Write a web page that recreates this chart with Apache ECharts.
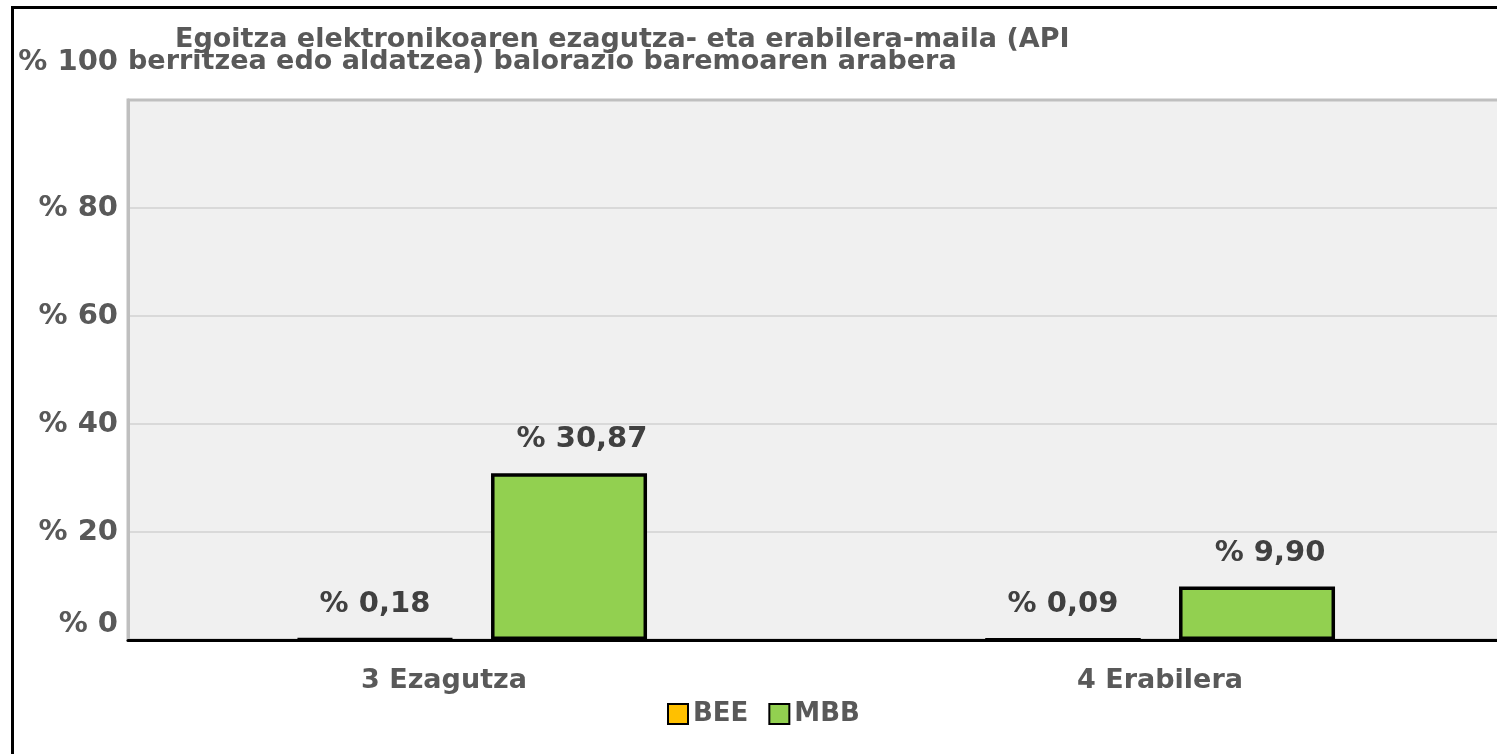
<!DOCTYPE html>
<html>
<head>
<meta charset="utf-8">
<script src="https://cdn.jsdelivr.net/npm/echarts@6/dist/echarts.min.js"></script>
<style>
html,body{margin:0;padding:0;background:#fff;overflow:hidden;}
#chart{width:1504px;height:754px;}
</style>
</head>
<body>
<div id="chart"></div>
<script>
// ---- data ----
const categories = ['3 Ezagutza', '4 Erabilera'];
const seriesNames = ['BEE', 'MBB'];
const beeValues = [0.18, 0.09];
const mbbValues = [30.87, 9.90];
const yTicks = [0, 20, 40, 60, 80, 100];
const titleLine1 = 'Egoitza elektronikoaren ezagutza- eta erabilera-maila (API';
const titleLine2 = 'berritzea edo aldatzea) balorazio baremoaren arabera';

// ---- styles ----
const FONT = 'DejaVu Sans, Verdana, sans-serif';
const GRAY = '#595959';
const LABEL = '#404040';
const COLORS = ['#FFC000', '#92D050'];

const fmt = v => '% ' + v.toFixed(2).replace('.', ',');

const chart = echarts.init(document.getElementById('chart'));
const baseText = {fontFamily: FONT, fontWeight: 'bold', color: GRAY};

chart.setOption({
  animation: false,
  backgroundColor: '#fff',
  graphic: [{
    type: 'rect', silent: true, z: 100,
    shape: {x: 12.5, y: 7.5, width: 1600, height: 900},
    style: {fill: 'none', stroke: '#000', lineWidth: 3}
  }],
  title: [
    {text: titleLine1, left: 175, top: 26, padding: 0,
     textStyle: Object.assign({fontSize: 27, lineHeight: 28}, baseText)},
    {text: titleLine2, left: 128, top: 48, padding: 0,
     textStyle: Object.assign({fontSize: 27, lineHeight: 28}, baseText)}
  ],
  legend: {
    data: seriesNames,
    left: 667, top: 701, padding: 0,
    itemWidth: 20, itemHeight: 20, itemGap: 20,
    icon: 'rect',
    textStyle: Object.assign({fontSize: 26, padding: [0, 0, 0, 0]}, baseText),
    itemStyle: {borderColor: '#000', borderWidth: 2}
  },
  grid: {
    left: 128, top: 100, right: 0, bottom: 114,
    show: true, backgroundColor: '#f0f0f0',
    borderColor: '#bfbfbf', borderWidth: 3
  },
  xAxis: {
    type: 'category',
    data: categories,
    axisTick: {show: false},
    axisLine: {lineStyle: {color: '#000', width: 3}},
    axisLabel: {
      margin: 27,
      fontSize: 27, fontFamily: FONT, fontWeight: 'bold', color: GRAY,
      formatter: (v, i) => i === 0 ? '{s|' + v + '}' : v,
      rich: {s: {fontSize: 27, fontFamily: FONT, fontWeight: 'bold', color: GRAY, padding: [0, 56, 0, 0]}}
    }
  },
  yAxis: {
    type: 'value',
    min: yTicks[0], max: yTicks[yTicks.length - 1], interval: 20,
    axisLine: {show: true, lineStyle: {color: '#bfbfbf', width: 3}},
    axisTick: {show: false},
    splitLine: {lineStyle: {color: ['#d9d9d9', '#d9d9d9', '#d9d9d9', '#d9d9d9', '#d9d9d9', '#bfbfbf'], width: 2}},
    axisLabel: {
      margin: 10,
      fontSize: 29, fontFamily: FONT, fontWeight: 'bold', color: GRAY,
      formatter: v => v === 100 ? '{t|% 100}' : (v === 0 ? '{b|% 0}' : '% ' + v),
      rich: {
        t: {fontSize: 29, fontFamily: FONT, fontWeight: 'bold', color: GRAY, padding: [0, 0, 76, 0]},
        b: {fontSize: 29, fontFamily: FONT, fontWeight: 'bold', color: GRAY, padding: [0, 0, 32, 0]}
      }
    }
  },
  series: [
    {
      name: seriesNames[0], type: 'bar', data: beeValues,
      barWidth: 156, barGap: '24.4%',
      itemStyle: {color: COLORS[0], borderColor: '#000', borderWidth: 3.5},
      label: {show: true, position: 'top', distance: 19, formatter: p => fmt(p.value),
        fontSize: 29, fontFamily: FONT, fontWeight: 'bold', color: LABEL, lineHeight: 29}
    },
    {
      name: seriesNames[1], type: 'bar', data: mbbValues,
      barWidth: 156,
      itemStyle: {color: COLORS[1], borderColor: '#000', borderWidth: 3.5},
      label: {show: true, position: 'top', distance: 19, offset: [13, 0], formatter: p => fmt(p.value),
        fontSize: 29, fontFamily: FONT, fontWeight: 'bold', color: LABEL, lineHeight: 29}
    }
  ]
});
</script>
</body>
</html>
